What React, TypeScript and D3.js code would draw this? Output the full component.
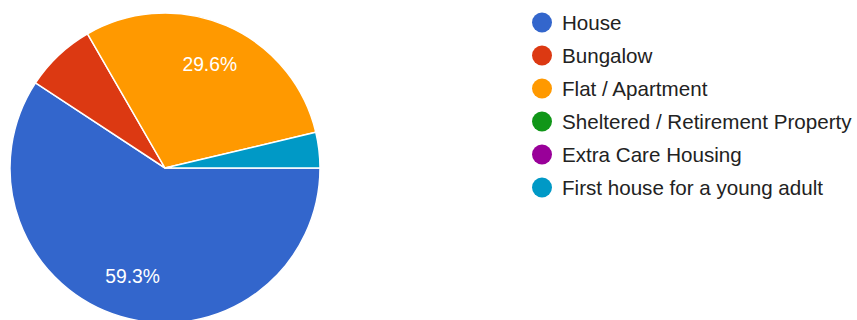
import React from "react";
import * as d3 from "d3";

const categories = [
  "House",
  "Bungalow",
  "Flat / Apartment",
  "Sheltered / Retirement Property",
  "Extra Care Housing",
  "First house for a young adult",
];
const counts = [16, 2, 8, 0, 0, 1];
const colors = ["#3366cc", "#dc3912", "#ff9900", "#109618", "#990099", "#0099c6"];

const W = 857;
const H = 320;
const cx = 165;
const cy = 168;
const R = 155;

export default function App() {
  const total = d3.sum(counts);
  const data = categories.map((c, i) => ({ name: c, value: counts[i], color: colors[i] }));
  const pie = d3
    .pie<any>()
    .value((d) => d.value)
    .sort(null)
    .startAngle(Math.PI / 2)
    .endAngle(Math.PI / 2 + 2 * Math.PI);
  const arcs = pie(data);
  const arc = d3.arc<any>().innerRadius(0).outerRadius(R);
  const labelArc = d3.arc<any>().innerRadius(113).outerRadius(113);
  const fmt = d3.format(".1%");
  const font = "Arial, 'Liberation Sans', sans-serif";

  return (
    <svg
      width={W}
      height={H}
      style={{ position: "absolute", left: 0, top: 0, background: "#fff" }}
    >
      <g transform={`translate(${cx},${cy})`}>
        {arcs
          .filter((a) => a.data.value > 0)
          .map((a, i) => (
            <path key={i} d={arc(a) as string} fill={a.data.color} stroke="#fff" strokeWidth={1.5} />
          ))}
        {arcs
          .filter((a) => a.data.value / total >= 0.1)
          .map((a, i) => {
            const [x, y] = labelArc.centroid(a);
            return (
              <text
                key={i}
                x={x}
                y={y}
                fill="#fff"
                fontSize={19.3}
                fontFamily={font}
                textAnchor="middle"
                dominantBaseline="central"
              >
                {fmt(a.data.value / total)}
              </text>
            );
          })}
      </g>
      <g>
        {data.map((d, i) => (
          <g key={i} transform={`translate(542,${22.5 + i * 33})`}>
            <circle r={10} fill={d.color} />
            <text x={20} y={0} dominantBaseline="central" fontSize={20.6} fontFamily={font} fill="#222">
              {d.name}
            </text>
          </g>
        ))}
      </g>
    </svg>
  );
}
